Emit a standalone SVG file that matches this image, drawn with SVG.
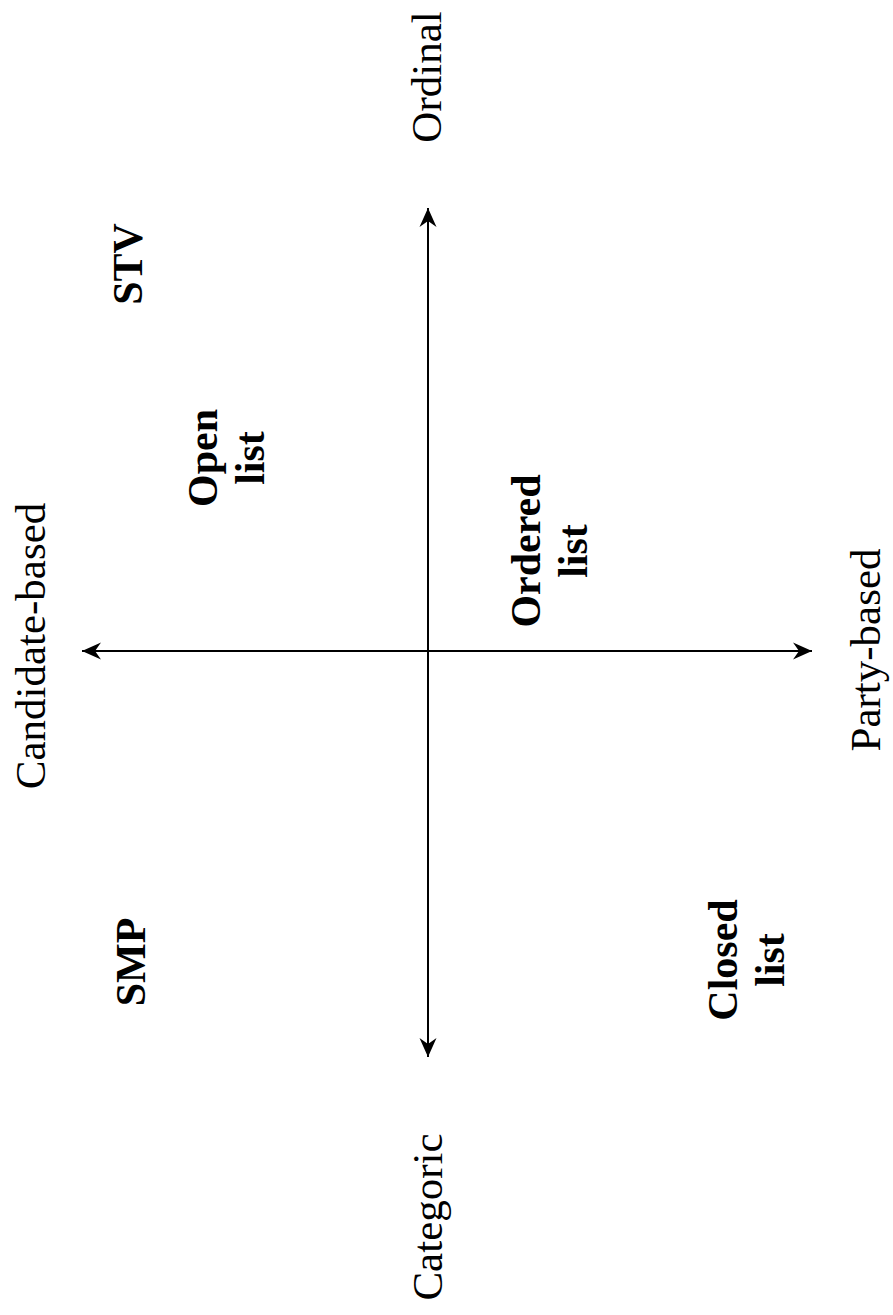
<svg xmlns="http://www.w3.org/2000/svg" width="893" height="1315" viewBox="0 0 893 1315">
<style>
.lbl{font-family:"Liberation Serif","Times New Roman",serif;font-size:43px;fill:#000;text-anchor:middle}
.b{font-weight:bold;font-size:42px}
.ax{stroke:#000;stroke-width:2;fill:none}
</style>
<defs>
<marker id="ah" markerUnits="userSpaceOnUse" markerWidth="24" markerHeight="20" viewBox="-20 -10 24 20" refX="0" refY="0" orient="auto-start-reverse">
<path d="M0,0 L-19,-8.5 L-13,0 L-19,8.5 Z" fill="#000"/>
</marker>
</defs>
<rect width="893" height="1315" fill="#fff"/>
<g id="connectors">
<line class="ax" x1="428" y1="208" x2="428" y2="1057" marker-start="url(#ah)" marker-end="url(#ah)"/>
<line class="ax" x1="82" y1="651" x2="812" y2="651" marker-start="url(#ah)" marker-end="url(#ah)"/>
</g>
<g id="ordinal"><text class="lbl" transform="translate(441,77) rotate(-90)">Ordinal</text></g>
<g id="categoric"><text class="lbl" transform="translate(442,1217) rotate(-90)">Categoric</text></g>
<g id="candidate-based"><text class="lbl" transform="translate(45,646) rotate(-90)">Candidate-based</text></g>
<g id="party-based"><text class="lbl" transform="translate(880,650) rotate(-90)">Party-based</text></g>
<g id="stv"><text class="lbl b" transform="translate(142,264) rotate(-90)">STV</text></g>
<g id="smp"><text class="lbl b" transform="translate(145,962) rotate(-90)">SMP</text></g>
<g id="open-list"><text class="lbl b" transform="translate(217,458) rotate(-90)">Open<tspan x="0" dy="47">list</tspan></text></g>
<g id="ordered-list"><text class="lbl b" transform="translate(540,551) rotate(-90)">Ordered<tspan x="0" dy="47">list</tspan></text></g>
<g id="closed-list"><text class="lbl b" transform="translate(737,960) rotate(-90)">Closed<tspan x="0" dy="47">list</tspan></text></g>
</svg>
